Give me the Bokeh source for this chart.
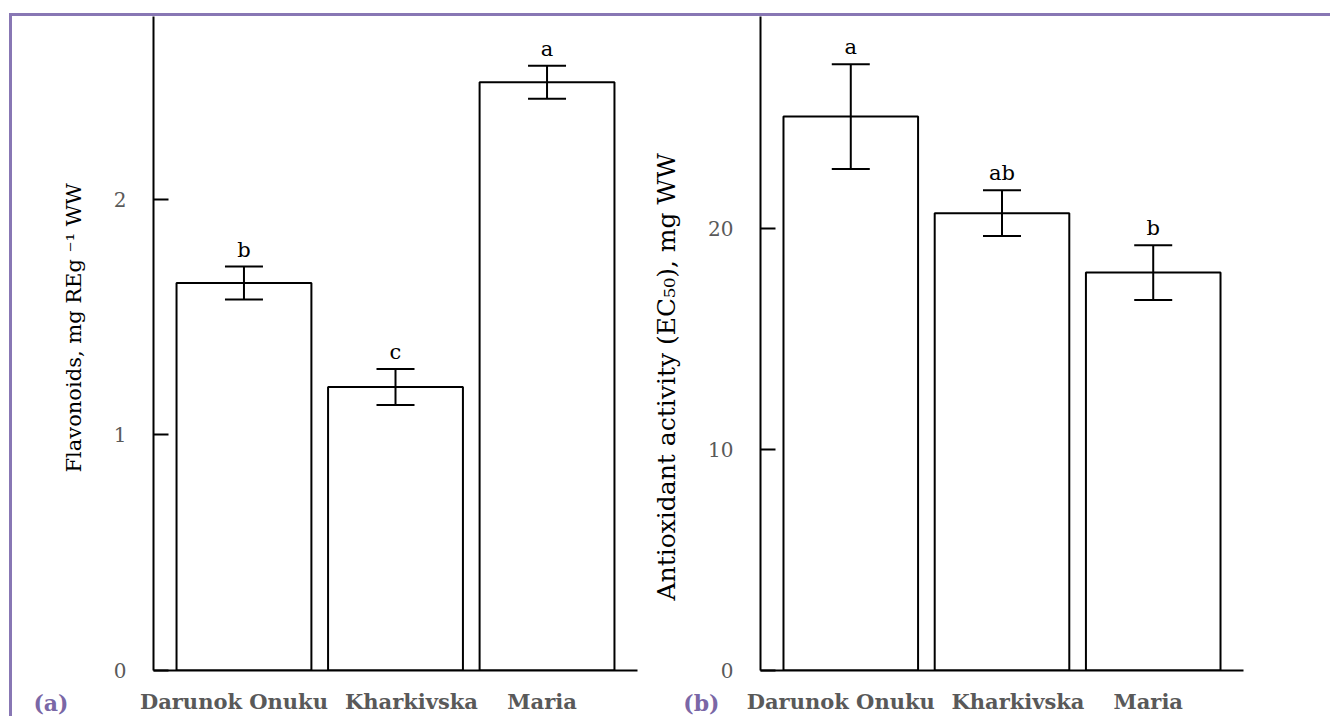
from bokeh.plotting import figure
from bokeh.layouts import row
from bokeh.models import (ColumnDataSource, Whisker, TeeHead, Range1d, FixedTicker,
                          LinearAxis, Title)
from bokeh.core.properties import value
from bokeh.embed import file_html
from bokeh.resources import INLINE

# ---- data ----
cultivars = ["Darunok Onuku", "Kharkivska", "Maria"]
flav_mean = [1.644, 1.203, 2.496]
flav_err = [0.07, 0.076, 0.07]
flav_letters = ["b", "c", "a"]
anti_mean = [25.07, 20.70, 18.01]
anti_err = [2.37, 1.04, 1.24]
anti_letters = ["a", "ab", "b"]
flav_ticks = [0, 1, 2]
anti_ticks = [0, 10, 20]

# ---- style ----
label_shift_px = [-10, 16, -5]          # horizontal shift of category labels, px
SERIF = "DejaVu Serif"
PURPLE_TXT = "#7a67a6"
PURPLE_BORDER = "#8877b4"
GRAY = "#595959"
H = 700
BOTTOM = 45
X0, X1 = 0.403, 3.597


def make_panel(means, errs, letters, ymax, ticks, ylabel, title_size, title_offset,
               title_standoff, tag, tag_standoff, tag_outer,
               width, border_left, border_right):
    x = list(range(1, len(cultivars) + 1))
    src = ColumnDataSource(dict(
        x=x, top=means,
        upper=[m + e for m, e in zip(means, errs)],
        lower=[m - e for m, e in zip(means, errs)],
        letter=letters,
    ))
    p = figure(width=width, height=H, output_backend="svg", toolbar_location=None,
               x_range=Range1d(X0, X1), y_range=Range1d(0, ymax),
               min_border_left=border_left, min_border_right=border_right,
               min_border_top=0, min_border_bottom=BOTTOM)
    p.outline_line_color = None
    p.grid.visible = False

    p.vbar(x="x", top="top", width=0.89, bottom=0, source=src,
           fill_color="white", line_color="black", line_width=2)
    w = Whisker(base="x", upper="upper", lower="lower", source=src,
                line_color="black", line_width=2, level="overlay",
                upper_head=TeeHead(size=38, line_width=2, line_color="black"),
                lower_head=TeeHead(size=38, line_width=2, line_color="black"))
    p.add_layout(w)
    p.text(x="x", y="upper", text="letter", source=src, text_align="center",
           text_baseline="bottom", y_offset=-5,
           text_font=value(SERIF), text_font_size="21px", text_color="black")

    # y axis
    ya = p.yaxis[0]
    ya.ticker = FixedTicker(ticks=ticks)
    ya.major_tick_in = 15
    ya.major_tick_out = 0
    ya.minor_tick_line_color = None
    ya.axis_line_width = 2
    ya.major_tick_line_width = 2
    ya.major_label_standoff = 27
    ya.major_label_text_font = SERIF
    ya.major_label_text_font_size = "20px"
    ya.major_label_text_color = GRAY

    # y title (reads bottom to top, starts title_offset px above the x axis)
    title = Title(text=ylabel, align="left", offset=title_offset,
                  text_font=SERIF, text_font_size=title_size,
                  text_font_style="normal", text_color="black", standoff=title_standoff)

    # panel tag, as the second line of the label of an extra (invisible) axis
    tag_axis = LinearAxis(ticker=FixedTicker(ticks=[0]),
                          major_label_overrides={0: "\u00a0\n" + tag},
                          axis_line_color=None, major_tick_line_color=None,
                          minor_tick_line_color=None, major_label_standoff=tag_standoff,
                          major_label_text_line_height=2.6,
                          major_label_text_font=SERIF, major_label_text_font_size="22px",
                          major_label_text_font_style="bold",
                          major_label_text_color=PURPLE_TXT)
    if tag_outer:
        p.add_layout(title, "left")
        p.add_layout(tag_axis, "left")
    else:
        p.add_layout(tag_axis, "left")
        p.add_layout(title, "left")

    # x axis with category names
    px_per_unit = (width - border_left - border_right) / (X1 - X0)
    tick_pos = [xi + dx / px_per_unit for xi, dx in zip(x, label_shift_px)]
    xa = p.xaxis[0]
    xa.ticker = FixedTicker(ticks=tick_pos)
    xa.major_label_overrides = {t: n for t, n in zip(tick_pos, cultivars)}
    xa.major_tick_line_color = None
    xa.minor_tick_line_color = None
    xa.axis_line_width = 2
    xa.major_label_standoff = 12
    xa.major_label_text_font = SERIF
    xa.major_label_text_font_size = "21px"
    xa.major_label_text_font_style = "bold"
    xa.major_label_text_color = GRAY
    return p


p1 = make_panel(flav_mean, flav_err, flav_letters, 2.775, flav_ticks,
                "Flavonoids, mg REg \u207b\u00b9 WW", "21px", 198, 50,
                "(a)", -40, True, 631, 141, 6)
p2 = make_panel(anti_mean, anti_err, anti_letters, 29.6, anti_ticks,
                "Antioxidant activity (EC\u2085\u2080), mg WW", "25px", 70, 0,
                "(b)", -20, False, 687, 117, 87)

layout = row(p1, p2, styles={
    "border-top": f"3px solid {PURPLE_BORDER}",
    "border-left": f"3px solid {PURPLE_BORDER}",
    "margin-top": "13px",
    "margin-left": "9px",
})

open("out.html", "w").write(file_html(layout, INLINE))
